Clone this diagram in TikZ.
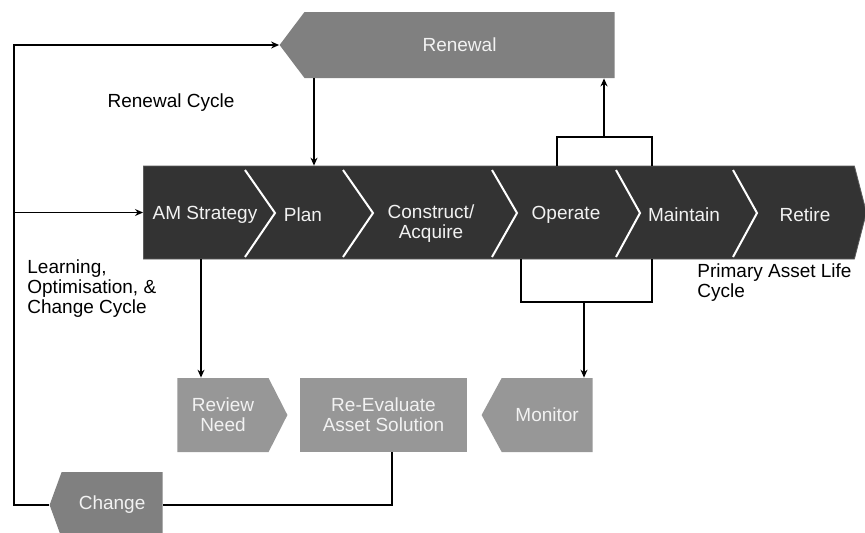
\documentclass[tikz,border=0pt]{standalone}
\usepackage{fontspec}
\setmainfont{Liberation Sans}
\usetikzlibrary{arrows.meta,positioning,shapes.symbols}
\definecolor{barfill}{HTML}{333333}
\definecolor{midgrey}{HTML}{808080}
\definecolor{lightgrey}{HTML}{979797}
\definecolor{boxtext}{HTML}{F2F2F2}

\begin{document}
\begin{tikzpicture}[x=0.5pt,y=-0.5pt,
    every node/.style={font=\fontsize{9.5}{10}\selectfont},
    phase/.style={shape=signal,inner sep=0pt,text=boxtext,align=center},
    stage/.style={text=boxtext,align=center},
    note/.style={inner sep=0pt,align=left},
    divider/.style={white,line width=1pt},
    link/.style={black,line width=0.6pt},
    flow/.style={link,-{Stealth[length=4pt,width=3.5pt]}}]
  \useasboundingbox (0,0) rectangle (865,532);

  % Top: renewal
  \node[phase,fill=midgrey,signal to=west,signal pointer angle=106,
        minimum width=167.5pt,minimum height=33pt,anchor=east] (renewal) at (615,45) {Renewal};
  \node (renewlbl) at (171,103) {Renewal Cycle};

  % Middle: primary life cycle bar
  \node[phase,fill=barfill,draw=barfill!80!white,line width=0.4pt,signal to=east,
        signal pointer angle=151,minimum width=361.5pt,minimum height=46.5pt,anchor=west] (bar) at (143,212.5) {};
  \foreach \xa/\xb in {245/275,343/373,492/517,616/640,733/757}
    \draw[divider] (\xa,170) -- (\xb,213) -- (\xa,257);

  \node[stage] (strategy) at (205,215) {AM Strategy};
  \node[stage] (plan) at (303,215) {Plan};
  \node[stage] (construct) at (431,224) {Construct/\\Acquire};
  \node[stage] (operate) at (566,215) {Operate};
  \node[stage] (maintain) at (684,215) {Maintain};
  \node[stage] (retire) at (805,215) {Retire};

  \node[note,anchor=west] (lifelbl) at (697,283) {Primary Asset Life\\Cycle};
  \node[note,anchor=west] (learnlbl) at (27,289) {Learning,\\Optimisation, \&\\Change Cycle};

  % Bottom: review and change
  \node[phase,fill=lightgrey,signal to=east,signal pointer angle=126,
        minimum width=55pt,minimum height=37pt,anchor=west] (review) at (177,415) {Review\\Need};
  \node[fill=lightgrey,text=boxtext,align=center,minimum width=83.5pt,minimum height=37pt] (reeval) at (383.5,415) {Re-Evaluate\\Asset Solution};
  \node[phase,fill=lightgrey,signal to=west,signal pointer angle=123,
        minimum width=55.5pt,minimum height=37pt,anchor=east] (monitor) at (593,415) {Monitor};
  \node[phase,fill=midgrey,signal to=west,signal pointer angle=140,
        minimum width=56.5pt,minimum height=33pt,anchor=east] (change) at (163,505) {Change};

  % Connectors
  \coordinate (loop) at (14,212.5);
  \draw[flow] (change.west) -| (loop) |- (renewal.west);
  \draw[flow] (loop) -- (bar.west);
  \draw[flow] (314,0 |- renewal.south) -- (314,0 |- bar.north);
  \draw[link] (557,0 |- bar.north) |- (652,137) -- (652,0 |- bar.north);
  \draw[flow] (604,137) -- (604,0 |- renewal.south);
  \draw[link] (521,0 |- bar.south) |- (652,302) -- (652,0 |- bar.south);
  \draw[flow] (584,302) -- (584,0 |- monitor.north);
  \draw[flow] ([xshift=-2pt]strategy |- bar.south) -- ([xshift=-2pt]strategy |- review.north);
  \draw[link] (392,0 |- reeval.south) |- (change.east);
\end{tikzpicture}
\end{document}
